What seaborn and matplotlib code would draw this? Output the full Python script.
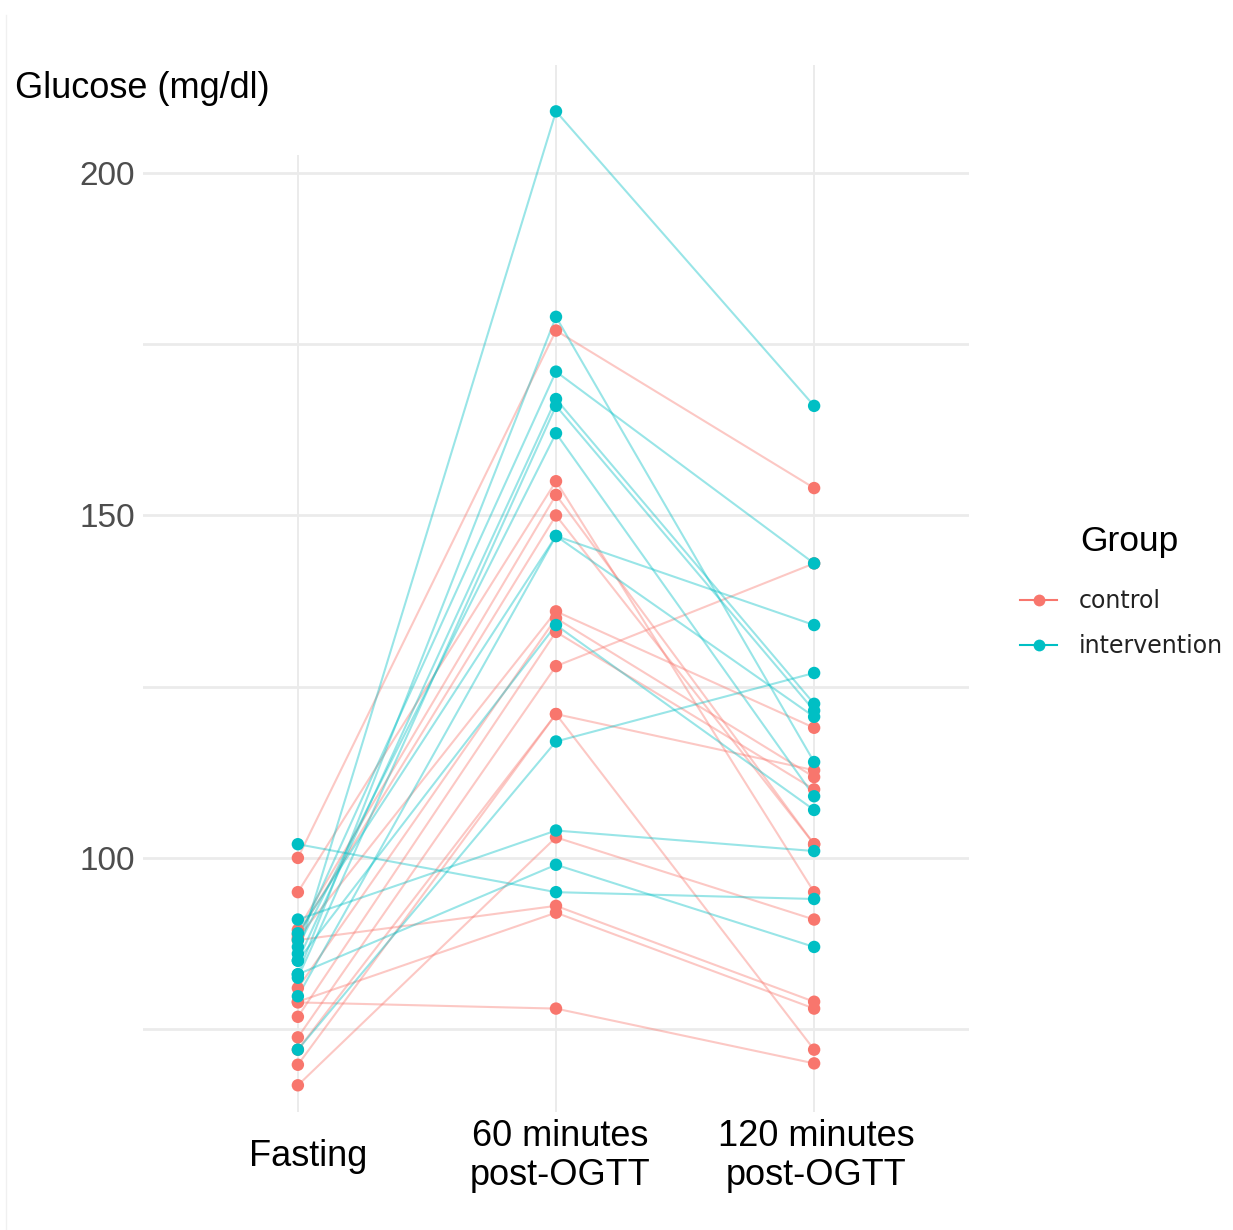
import matplotlib
matplotlib.use("Agg")
import matplotlib.pyplot as plt
from matplotlib.lines import Line2D
from matplotlib.patches import Rectangle
from matplotlib.transforms import ScaledTranslation
import numpy as np
import pandas as pd
import seaborn as sns

# Time points of the oral glucose tolerance test
timepoints = ["Fasting", "60 minutes\npost-OGTT", "120 minutes\npost-OGTT"]
groups = ["control", "intervention"]
palette = {"control": "#F8766D", "intervention": "#00BFC4"}

# Glucose (mg/dl) per participant, control group
control_fasting = [78.9, 100, 95, 89.5, 88.8, 88.3, 81, 76.8, 73.8, 72, 69.8, 66.8, 88, 79]
control_60 = [78, 177, 155, 153, 150, 136, 135, 133, 128, 121, 121, 103, 93, 92]
control_120 = [70, 154, 95, 102, 102, 119, 111.8, 110, 143, 112.8, 72, 91, 79, 78]

# Glucose (mg/dl) per participant, intervention group
intervention_fasting = [86, 83, 88, 85, 82.5, 87, 79.8, 89, 85, 72, 91, 83, 102]
intervention_60 = [209, 179, 171, 167, 166, 162, 147, 147, 134, 117, 104, 99, 95]
intervention_120 = [166, 114, 143, 122.5, 121.5, 109, 134, 120.6, 107, 127, 101, 87, 94]

y_major = [100, 150, 200]
y_minor = [75, 125, 175]

rows = []
for grp, series in [("control", [control_fasting, control_60, control_120]),
                    ("intervention", [intervention_fasting, intervention_60, intervention_120])]:
    for i in range(len(series[0])):
        for t, vals in enumerate(series):
            rows.append({"subject": f"{grp}_{i}", "group": grp, "time": t, "glucose": vals[i]})
df = pd.DataFrame(rows)

W, H = 1233, 1230
fig = plt.figure(figsize=(W / 100, H / 100), dpi=100)
ax = fig.add_axes([143 / W, 1 - 1112 / H, (969 - 143) / W, (1112 - 65) / H])

sns.lineplot(data=df, x="time", y="glucose", hue="group", units="subject",
             estimator=None, palette=palette, hue_order=groups, alpha=0.4,
             linewidth=1.5, legend=False, ax=ax, zorder=2)
sns.scatterplot(data=df, x="time", y="glucose", hue="group", palette=palette,
                hue_order=groups, s=80, linewidth=0, legend=False, ax=ax, zorder=3)

ax.set_xlim(-0.6, 2.6)
ax.set_ylim(62.9, 215.77)
ax.set_xticks(range(len(timepoints)))
ax.set_xticklabels(timepoints, fontsize=26, family="Liberation Sans",
                   color="black", linespacing=1.15)
ax.set_yticks(y_major)
ax.set_yticks(y_minor, minor=True)
ax.set_yticklabels([str(v) for v in y_major], fontsize=24,
                   family="Liberation Sans", color="#4d4d4d")
ax.tick_params(axis="both", which="both", length=0)
ax.tick_params(axis="x", pad=32)
ax.tick_params(axis="y", pad=6)
label_shift_px = [10, 4, 2]
for lbl, dx in zip(ax.get_xticklabels(), label_shift_px):
    lbl.set_va("center")
    lbl.set_transform(lbl.get_transform() + ScaledTranslation(dx / 100, 0, fig.dpi_scale_trans))

ax.set_xlabel("")
ax.set_ylabel("")
for s in ax.spines.values():
    s.set_visible(False)
ax.set_axisbelow(True)
ax.grid(axis="y", which="both", color="#ebebeb", linewidth=2.0)
ax.grid(axis="x", which="major", color="#e6e6e6", linewidth=1.1)

# White panel behind the axis title, then the title itself
fig.patches.append(Rectangle((10 / W, 1 - 155 / H), 310 / W, 155 / H,
                             transform=fig.transFigure, facecolor="white",
                             edgecolor="none", zorder=5))
fig.text(15 / W, 1 - 98 / H, "Glucose (mg/dl)", fontsize=26,
         family="Liberation Sans", color="black", ha="left", va="baseline", zorder=6)
fig.lines.append(Line2D([6 / W, 6 / W], [0, 1 - 15 / H], transform=fig.transFigure,
                        color="#f0f0f0", linewidth=1.0))

# Legend
fig.text(1080 / W, 1 - 551 / H, "Group", fontsize=25.5, family="Liberation Sans",
         color="black", ha="left", va="baseline")
handles = [Line2D([0], [0], color=palette[g], linewidth=1.5, marker="o",
                  markersize=8.5, markeredgewidth=0,
                  markerfacecolor=palette[g]) for g in groups]
leg = fig.legend(handles, groups, loc="upper left",
                 bbox_to_anchor=(1020 / W, 1 - 589 / H), frameon=False,
                 prop={"family": "DejaVu Sans", "size": 17}, handlelength=1.57,
                 handletextpad=0.9, labelspacing=0.9, borderpad=0, borderaxespad=0)
for txt in leg.get_texts():
    txt.set_color("#222222")

fig.savefig("out.png", dpi=100, facecolor="white")
